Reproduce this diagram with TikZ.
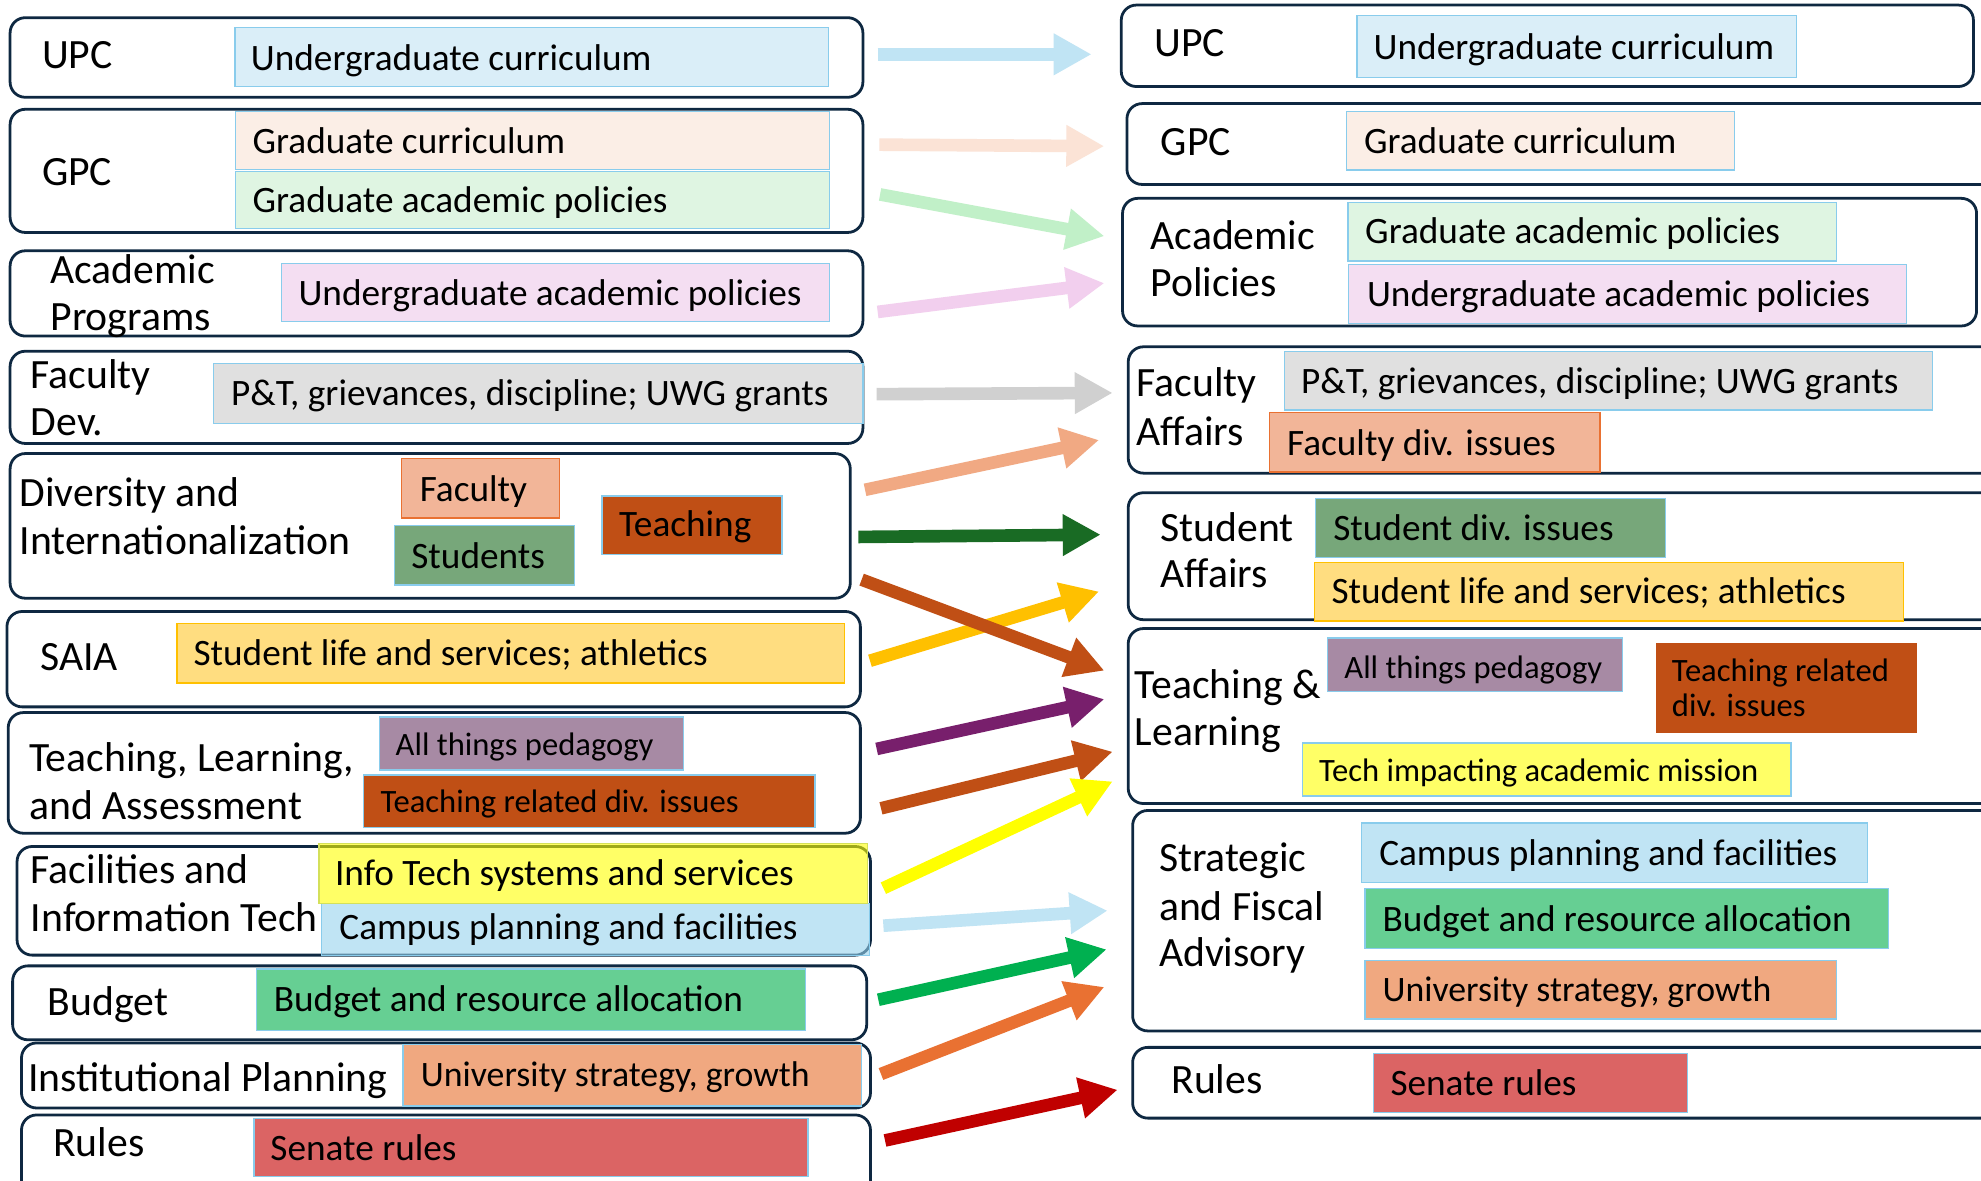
\documentclass[tikz,border=0pt]{standalone}
\usepackage{fontspec}
\setmainfont{Carlito}
\usetikzlibrary{arrows.meta,fit}
\definecolor{obc}{HTML}{0E2841}
\definecolor{ibc}{HTML}{89CCEC}
\definecolor{cUGC}{HTML}{DAEEF8}
\definecolor{cGC}{HTML}{FBEEE6}
\definecolor{cGAP}{HTML}{DFF5E2}
\definecolor{cUAP}{HTML}{F4DEF2}
\definecolor{cPT}{HTML}{E0E0E0}
\definecolor{cFAC}{HTML}{F2B598}
\definecolor{cFACb}{HTML}{E97132}
\definecolor{cSTU}{HTML}{77A77A}
\definecolor{cTCH}{HTML}{C04F15}
\definecolor{cSL}{HTML}{FFDD80}
\definecolor{cSLb}{HTML}{FFC000}
\definecolor{cPED}{HTML}{A78AA4}
\definecolor{cIT}{HTML}{FFFF00}
\definecolor{cITb}{HTML}{D4E05A}
\definecolor{cTIA}{HTML}{FFFF66}
\definecolor{cCP}{HTML}{C0E4F4}
\definecolor{cCPo}{HTML}{96D2ED}
\definecolor{cBRA}{HTML}{66CF93}
\definecolor{cUS}{HTML}{F0A880}
\definecolor{cSR}{HTML}{DB6464}
% arrow colours
\definecolor{aLB}{HTML}{C0E4F4}
\definecolor{aPE}{HTML}{FBE3D6}
\definecolor{aLG}{HTML}{C1F0C8}
\definecolor{aPK}{HTML}{F2CFEE}
\definecolor{aGR}{HTML}{D0D0D0}
\definecolor{aSA}{HTML}{F1A983}
\definecolor{aDG}{HTML}{196B24}
\definecolor{aBR}{HTML}{C04F15}
\definecolor{aGO}{HTML}{FFC000}
\definecolor{aPU}{HTML}{781F6C}
\definecolor{aYE}{HTML}{FFFF00}
\definecolor{aGN}{HTML}{00B050}
\definecolor{aOR}{HTML}{E97132}
\definecolor{aRE}{HTML}{C00000}
\tikzset{
  obx/.style={draw=obc, line width=2.2pt, rounded corners=12pt, inner sep=0pt, outer sep=0pt},
  ibx/.style={draw=ibc, line width=1pt, inner sep=0pt, outer sep=0pt},
  tbase/.style={anchor=base west, inner sep=0pt, outer sep=0pt, yshift=-1.5pt},
  lab/.style={tbase, font=\fontsize{33}{37}\selectfont},
  txt/.style={tbase, font=\fontsize{29.5}{35}\selectfont},
  txs/.style={tbase, font=\fontsize{28.3}{34}\selectfont},
  sml/.style={tbase, font=\fontsize{25.8}{29}\selectfont},
  arr/.style={line width=10pt, -{Triangle[length=30pt,width=31pt]}},
}
\begin{document}
\begin{tikzpicture}[x=1pt,y=-1pt]
\useasboundingbox (0,0) rectangle (1568,934);
\clip (0,0) rectangle (1568,934);
\fill[white] (0,0) rectangle (1568,934);

% ---------------- left outer boxes
\node[obx, fit={(8,14) (683,77)}] (L1) {};
\node[obx, fit={(8,86.5) (683,184)}] (L2) {};
\node[obx, fit={(8,198.5) (683,266)}] (L3) {};
\node[obx, fit={(8,278) (683,351)}] (L4) {};
\node[obx, fit={(8,359) (673,473.5)}] (L5) {};
\node[obx, fit={(5.5,484) (681,559.5)}] (L6) {};
\node[obx, fit={(6.5,564) (681,659.5)}] (L7) {};
\node[obx, fit={(13.5,670) (689,756)}] (L8) {};
\node[obx, fit={(10,764.5) (686,823)}] (L9) {};
\node[obx, fit={(17,825.5) (689,877)}] (L10) {};
\node[obx, fit={(17,882.5) (689,950)}] (L11) {};

% ---------------- left inner boxes
\node[ibx, fill=cUGC, fit={(186,22) (656,68.5)}] (ugc1) {};
\node[ibx, fill=cGC, fit={(186.5,88) (656.5,134)}] (gc1) {};
\node[ibx, fill=cGAP, fit={(186.5,135.5) (656.5,181)}] (gap1) {};
\node[ibx, fill=cUAP, fit={(223,208.5) (656.5,254.5)}] (uap1) {};
\node[ibx, fill=cPT, fit={(169,288) (683,335)}] (pt1) {};
\node[ibx, draw=cFACb, fill=cFAC, fit={(318,363) (443,410)}] (fac1) {};
\node[ibx, fill=cSTU, fit={(312.5,416) (455,463)}] (stu1) {};
\node[ibx, fill=cTCH, fit={(476.5,392.5) (619,439)}] (tch1) {};
\node[ibx, draw=cSLb, fill=cSL, fit={(140,493.5) (668.5,540.5)}] (sl1) {};
\node[ibx, fill=cPED, fit={(300.5,567.5) (541,609.5)}] (ped1) {};
\node[ibx, fill=cTCH, fit={(288,613.5) (645,655)}] (trd1) {};
\node[ibx, fill=cCPo, fill opacity=0.6, fit={(254.5,715) (688.5,756.5)}] (cp1) {};
\node[ibx, draw=cITb, fill=cIT, fill opacity=0.6, fit={(252.5,667.5) (686.5,715)}] (it1) {};
\node[ibx, fill=cBRA, fit={(203,767) (637.5,815.5)}] (bra1) {};
\node[ibx, fill=cUS, fit={(319,827) (682,875.5)}] (us1) {};
\node[ibx, fill=cSR, fit={(201,885.5) (639.5,931.5)}] (sr1) {};

% ---------------- left texts
\node[lab] (tL1) at (33.3,52.8) {UPC};
\node[txt] (tugc1) at (198.6,54.1) {Undergraduate curriculum};
\node[lab] (tL2) at (33.3,145.6) {GPC};
\node[txt] (tgc1) at (200,120) {Graduate curriculum};
\node[txt] (tgap1) at (200,166.7) {Graduate academic policies};
\node[lab] (tL3a) at (40,222.9) {Academic};
\node[lab] (tL3b) at (40,259.8) {Programs};
\node[txt] (tuap1) at (236.3,240.6) {Undergraduate academic policies};
\node[lab] (tL4a) at (24.4,306) {Faculty};
\node[lab] (tL4b) at (24.4,343) {Dev.};
\node[txt] (tpt1) at (183,319.7) {P\&T, grievances, discipline; UWG grants};
\node[lab] (tL5a) at (15.5,399.7) {Diversity and};
\node[lab] (tL5b) at (15.5,437.5) {Internationalization};
\node[txt] (tfac1) at (332.3,395.8) {Faculty};
\node[txt] (tstu1) at (325.6,448.5) {Students};
\node[txt] (ttch1) at (490,423.5) {Teaching};
\node[lab] (tL6) at (32,529) {SAIA};
\node[txt] (tsl1) at (153.2,525.1) {Student life and services; athletics};
\node[lab] (tL7a) at (23.1,609.5) {Teaching, Learning,};
\node[lab] (tL7b) at (23.1,647.2) {and Assessment};
\node[sml] (tped1) at (313.2,596.3) {All things pedagogy};
\node[sml] (ttrd1) at (301.2,641.6) {Teaching related div. issues};
\node[lab] (tL8a) at (24.4,697.8) {Facilities and};
\node[lab] (tL8b) at (24.4,735.5) {Information Tech};
\node[txt] (tit1) at (265.2,699.1) {Info Tech systems and services};
\node[txt] (tcp1) at (268.7,741.9) {Campus planning and facilities};
\node[lab] (tL9) at (37.8,802) {Budget};
\node[txt] (tbra1) at (216.8,798.8) {Budget and resource allocation};
\node[lab] (tL10) at (22.2,862.2) {Institutional Planning};
\node[txs] (tus1) at (333.2,858.7) {University strategy, growth};
\node[lab] (tL11) at (42.2,914.1) {Rules};
\node[txt] (tsr1) at (214.1,916.8) {Senate rules};

% ---------------- right outer boxes
\node[obx, fit={(887.5,4) (1562,68.5)}] (R1) {};
\node[obx, fit={(892,82) (1580,146)}] (R2) {};
\node[obx, fit={(888.5,157) (1564.5,258)}] (R3) {};
\node[obx, fit={(893,274.5) (1580,374.5)}] (R4) {};
\node[obx, fit={(893,390) (1580,490.5)}] (R5) {};
\node[obx, fit={(893,497.5) (1580,636)}] (R6) {};
\node[obx, fit={(896.5,641.5) (1580,816)}] (R7) {};
\node[obx, fit={(896.5,829) (1580,885)}] (R8) {};

% ---------------- right inner boxes
\node[ibx, fill=cUGC, fit={(1074,12.5) (1422,61.5)}] (ugc2) {};
\node[ibx, fill=cGC, fit={(1065.5,88.5) (1373,134.5)}] (gc2) {};
\node[ibx, fill=cGAP, fit={(1067,160) (1453.5,206.5)}] (gap2) {};
\node[ibx, fill=cUAP, fit={(1067.5,209.5) (1509,256)}] (uap2) {};
\node[ibx, fill=cPT, fit={(1016.5,278.5) (1529.5,324.5)}] (pt2) {};
\node[ibx, draw=cFACb, fill=cFAC, fit={(1005,326.5) (1266.5,373.5)}] (fdi2) {};
\node[ibx, fill=cSTU, fit={(1041.5,394.5) (1318.5,441)}] (sdi2) {};
\node[ibx, draw=cSLb, fill=cSL, fit={(1040.5,445) (1506.5,491.5)}] (sl2) {};
\node[ibx, fill=cPED, fit={(1051,505) (1284,547.5)}] (ped2) {};
\node[ibx, draw=none, fill=cTCH, fit={(1311,509) (1517,580.5)}] (trd2) {};
\node[ibx, fill=cTIA, fit={(1031,588) (1417.5,630)}] (tia2) {};
\node[ibx, fill=cCP, fit={(1077.5,651.5) (1478,698.5)}] (cp2) {};
\node[ibx, fill=cBRA, fit={(1080.5,703.5) (1494.5,750.5)}] (bra2) {};
\node[ibx, fill=cUS, fit={(1080.5,760.5) (1453.5,806.5)}] (us2) {};
\node[ibx, fill=cSR, fit={(1087,834) (1335.5,880.5)}] (sr2) {};

% ---------------- right texts
\node[lab] (tR1) at (913.8,43.5) {UPC};
\node[txt] (tugc2) at (1087.3,45.4) {Undergraduate curriculum};
\node[lab] (tR2) at (918.7,121.3) {GPC};
\node[txt] (tgc2) at (1079.7,120) {Graduate curriculum};
\node[lab] (tR3a) at (910.7,195.7) {Academic};
\node[lab] (tR3b) at (910.7,233.5) {Policies};
\node[txt] (tgap2) at (1080.6,191.3) {Graduate academic policies};
\node[txt] (tuap2) at (1082,241.4) {Undergraduate academic policies};
\node[lab] (tR4a) at (899.6,312.6) {Faculty};
\node[lab] (tR4b) at (899.6,350.9) {Affairs};
\node[txt] (tpt2) at (1029.9,310) {P\&T, grievances, discipline; UWG grants};
\node[txt] (tfdi2) at (1018.8,359.3) {Faculty div. issues};
\node[lab] (tR5a) at (918.7,426.9) {Student};
\node[lab] (tR5b) at (918.7,463.8) {Affairs};
\node[txt] (tsdi2) at (1055.3,426.1) {Student div. issues};
\node[txt] (tsl2) at (1053.9,476.2) {Student life and services; athletics};
\node[lab] (tR6a) at (898.3,551.4) {Teaching \&};
\node[lab] (tR6b) at (898.3,588.8) {Learning};
\node[sml] (tped2) at (1064.1,535.5) {All things pedagogy};
\node[sml] (ttrd2a) at (1323.4,538.2) {Teaching related};
\node[sml] (ttrd2b) at (1323.4,565.9) {div. issues};
\node[sml] (ttia2) at (1044.1,616.8) {Tech impacting academic mission};
\node[lab] (tR7a) at (917.4,688.6) {Strategic};
\node[lab] (tR7b) at (917.4,726.9) {and Fiscal};
\node[lab] (tR7c) at (917.4,763.8) {Advisory};
\node[txt] (tcp2) at (1091.7,683.3) {Campus planning and facilities};
\node[txt] (tbra2) at (1094.4,735.6) {Budget and resource allocation};
\node[txs] (tus2) at (1094.4,791.5) {University strategy, growth};
\node[lab] (tR8) at (927.2,864.3) {Rules};
\node[txt] (tsr2) at (1100.6,865.3) {Senate rules};

% ---------------- arrow end points
\coordinate (a1s) at (694.7,43);   \coordinate (a1e) at (864,43);
\coordinate (a2s) at (696,114.5);  \coordinate (a2e) at (874,115.7);
\coordinate (a3s) at (696.6,153.9); \coordinate (a3e) at (874.1,186.9);
\coordinate (a4s) at (694.7,246.9); \coordinate (a4e) at (874.1,224.1);
\coordinate (a5s) at (693.9,312);  \coordinate (a5e) at (880.7,311);
\coordinate (a6s) at (684.7,387.7); \coordinate (a6e) at (869.9,348.3);
\coordinate (a7s) at (679.4,425);  \coordinate (a7e) at (871.2,423.2);
\coordinate (a8s) at (682,458.8);  \coordinate (a8e) at (874.1,530.8);
\coordinate (a9s) at (688.6,523);  \coordinate (a9e) at (869.9,468.2);
\coordinate (a10s) at (693.9,592.8); \coordinate (a10e) at (874.1,553.4);
\coordinate (a11s) at (697.3,639.8); \coordinate (a11e) at (880.7,595);
\coordinate (a12s) at (699.2,703);  \coordinate (a12e) at (880.7,618.5);
\coordinate (a13s) at (699.2,732.7); \coordinate (a13e) at (876.7,720.8);
\coordinate (a14s) at (695.2,791.3); \coordinate (a14e) at (875.9,751.5);
\coordinate (a15s) at (697.3,850.1); \coordinate (a15e) at (874.1,781.2);
\coordinate (a16s) at (700.5,902.7); \coordinate (a16e) at (884.6,862.6);

% ---------------- arrows
\draw[arr, aLB] (a1s) -- (a1e);
\draw[arr, aPE] (a2s) -- (a2e);
\draw[arr, aLG] (a3s) -- (a3e);
\draw[arr, aPK] (a4s) -- (a4e);
\draw[arr, aGR] (a5s) -- (a5e);
\draw[arr, aSA] (a6s) -- (a6e);
\draw[arr, aDG] (a7s) -- (a7e);
\draw[arr, aGO] (a9s) -- (a9e);
\draw[arr, aBR] (a8s) -- (a8e);
\draw[arr, aPU] (a10s) -- (a10e);
\draw[arr, aBR] (a11s) -- (a11e);
\draw[arr, aYE] (a12s) -- (a12e);
\draw[arr, aLB] (a13s) -- (a13e);
\draw[arr, aGN] (a14s) -- (a14e);
\draw[arr, aOR] (a15s) -- (a15e);
\draw[arr, aRE] (a16s) -- (a16e);
\end{tikzpicture}
\end{document}
